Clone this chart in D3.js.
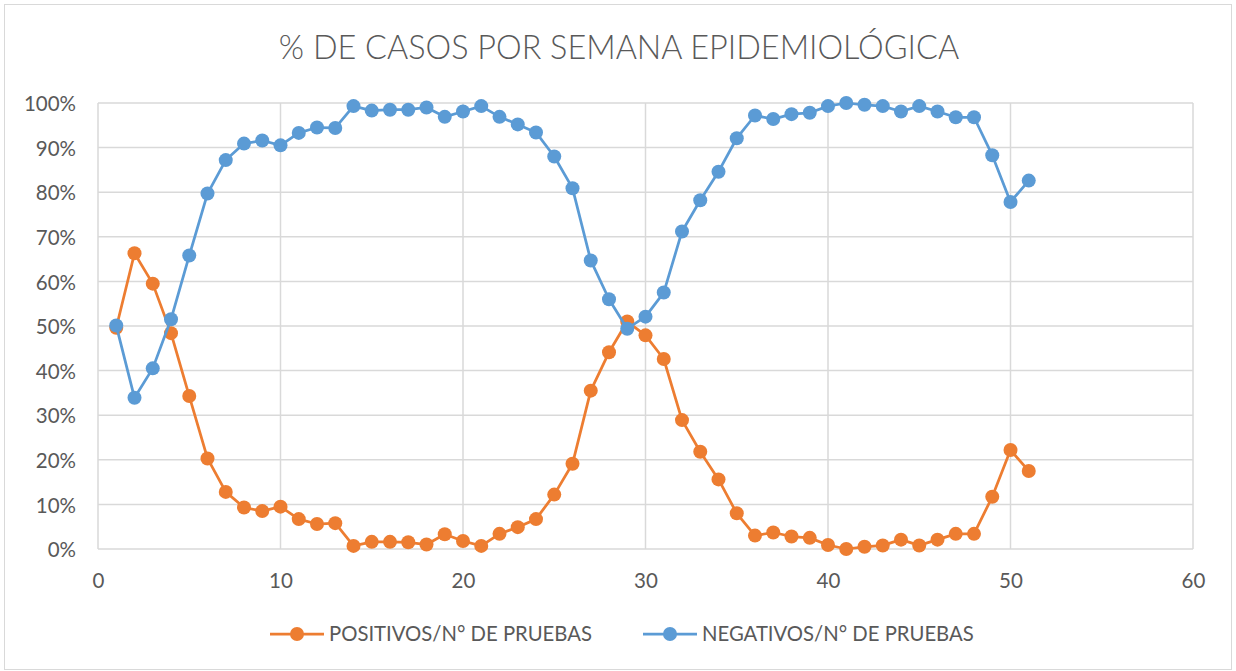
<!DOCTYPE html>
<html>
<head>
<meta charset="utf-8">
<script src="https://cdn.jsdelivr.net/npm/d3@7"></script>
<style>
  body { margin: 0; background: #fff; }
  text { font-family: Lato, "Open Sans", sans-serif; fill: #595959; }
</style>
</head>
<body>
<svg id="chart" width="1236" height="671"></svg>
<script>
var W = 1236, H = 671;

// semana epidemiologica 1..51
var semanas = d3.range(1, 52);
var positivos = [49.6, 66.3, 59.5, 48.4, 34.3, 20.3, 12.8, 9.3, 8.5, 9.5,
  6.7, 5.6, 5.8, 0.7, 1.6, 1.6, 1.5, 1.0, 3.3, 1.8,
  0.7, 3.4, 4.9, 6.7, 12.2, 19.1, 35.5, 44.1, 51.0, 47.9,
  42.6, 28.9, 21.8, 15.6, 8.0, 3.0, 3.7, 2.8, 2.5, 0.9,
  0.0, 0.5, 0.8, 2.1, 0.8, 2.1, 3.4, 3.4, 11.7, 22.2, 17.5];
var negativos = [50.1, 33.9, 40.5, 51.5, 65.8, 79.7, 87.2, 90.9, 91.6, 90.5,
  93.3, 94.5, 94.4, 99.3, 98.3, 98.5, 98.5, 99.0, 96.9, 98.1,
  99.3, 96.9, 95.2, 93.4, 88.0, 80.9, 64.7, 56.0, 49.4, 52.1,
  57.5, 71.2, 78.2, 84.6, 92.1, 97.2, 96.4, 97.5, 97.8, 99.3,
  100.0, 99.6, 99.3, 98.1, 99.3, 98.1, 96.8, 96.8, 88.3, 77.8, 82.6];
var xTicks = [0, 10, 20, 30, 40, 50, 60];
var yTicks = d3.range(0, 101, 10);

var series = [
  { name: 'POSITIVOS/N° DE PRUEBAS', color: '#ED7D31', values: positivos },
  { name: 'NEGATIVOS/N° DE PRUEBAS', color: '#5B9BD5', values: negativos }
];

var svg = d3.select('#chart');

// outer chart border
svg.append('rect')
  .attr('x', 4.5).attr('y', 4.5)
  .attr('width', W - 9).attr('height', H - 6)
  .attr('fill', '#fff')
  .attr('stroke', '#D9D9D9');

var plot = { left: 98, right: 1193, top: 103, bottom: 549 };

var x = d3.scaleLinear().domain([0, 60]).range([plot.left, plot.right]);
var y = d3.scaleLinear().domain([0, 100]).range([plot.bottom, plot.top]);

// title
svg.append('text')
  .attr('x', W / 2 + 1).attr('y', 59)
  .attr('text-anchor', 'middle')
  .style('font-size', '32.4px')
  .style('font-weight', 300)
  .text('% DE CASOS POR SEMANA EPIDEMIOLÓGICA');

// gridlines
var grid = svg.append('g');
grid.selectAll('line.h').data(yTicks).enter().append('line')
  .attr('x1', plot.left).attr('x2', plot.right)
  .attr('y1', function(d) { return y(d); }).attr('y2', function(d) { return y(d); })
  .attr('stroke', '#D9D9D9').attr('stroke-width', 1.5);
grid.selectAll('line.v').data(xTicks).enter().append('line')
  .attr('y1', plot.top).attr('y2', plot.bottom)
  .attr('x1', function(d) { return x(d); }).attr('x2', function(d) { return x(d); })
  .attr('stroke', '#D9D9D9').attr('stroke-width', 1.5);

// axes (labels only)
var yAxis = svg.append('g')
  .attr('transform', 'translate(' + plot.left + ',0)')
  .call(d3.axisLeft(y).tickValues(yTicks).tickSize(0).tickPadding(22)
    .tickFormat(function(d) { return d + '%'; }));
var xAxis = svg.append('g')
  .attr('transform', 'translate(0,' + plot.bottom + ')')
  .call(d3.axisBottom(x).tickValues(xTicks).tickSize(0).tickPadding(24));
[yAxis, xAxis].forEach(function(a) {
  a.select('.domain').remove();
  a.selectAll('text').style('font-size', '20.5px').attr('fill', '#595959');
});
yAxis.selectAll('text').attr('dy', '0.38em');

// series
var line = d3.line()
  .x(function(d, i) { return x(semanas[i]); })
  .y(function(d) { return y(d); });

series.forEach(function(s) {
  var g = svg.append('g');
  g.append('path')
    .attr('d', line(s.values))
    .attr('fill', 'none')
    .attr('stroke', s.color)
    .attr('stroke-width', 2.75)
    .attr('stroke-linejoin', 'round');
  g.selectAll('circle').data(s.values).enter().append('circle')
    .attr('cx', function(d, i) { return x(semanas[i]); })
    .attr('cy', function(d) { return y(d); })
    .attr('r', 7)
    .attr('fill', s.color);
});

// legend
var legendX = [270, 643];
var legend = svg.append('g').attr('transform', 'translate(0,634)');
series.forEach(function(s, i) {
  var lg = legend.append('g').attr('transform', 'translate(' + legendX[i] + ',0)');
  lg.append('line').attr('x1', 0).attr('x2', 54).attr('y1', 0).attr('y2', 0)
    .attr('stroke', s.color).attr('stroke-width', 2.75);
  lg.append('circle').attr('cx', 27).attr('cy', 0).attr('r', 7).attr('fill', s.color);
  lg.append('text').attr('x', 59).attr('y', 0).attr('dy', '0.36em')
    .style('font-size', '20.3px')
    .text(s.name);
});
</script>
</body>
</html>
